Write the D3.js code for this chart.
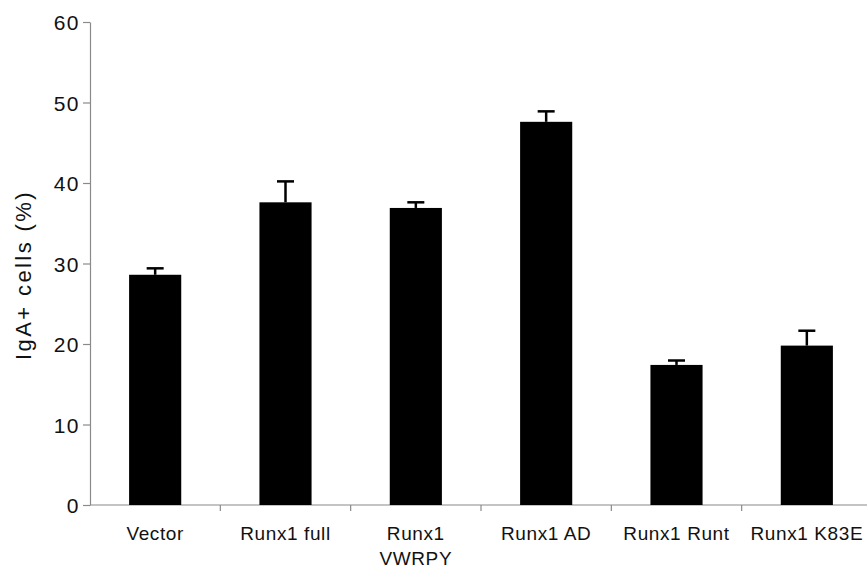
<!DOCTYPE html>
<html>
<head>
<meta charset="utf-8">
<script src="https://cdn.jsdelivr.net/npm/d3@7"></script>
<style>
  html, body { margin: 0; padding: 0; background: #fff; }
  svg { display: block; }
</style>
</head>
<body>
<svg id="chart" width="867" height="571"></svg>
<script>
const categories = ["Vector", "Runx1 full", "Runx1|VWRPY", "Runx1 AD", "Runx1 Runt", "Runx1 K83E"];
const values = [28.6, 37.6, 36.9, 47.6, 17.4, 19.8];
const errors = [0.8, 2.6, 0.7, 1.3, 0.55, 1.85];
const yTicks = [0, 10, 20, 30, 40, 50, 60];
const yTitle = "IgA+ cells (%)";

const data = categories.map((c, i) => ({ c, v: values[i], e: errors[i] }));

const svg = d3.select("#chart");
const mLeft = 90, mRight = 872, mTop = 22, mBottom = 505;
const axisColor = "#8a8a8a";
const font = "'Liberation Sans', Arial, Helvetica, sans-serif";

const x = d3.scaleBand().domain(categories).range([mLeft, mRight])
  .paddingInner(0.6).paddingOuter(0.3);
const y = d3.scaleLinear().domain([0, 60]).range([mBottom, mTop]);

// Y axis
const yAxis = svg.append("g").attr("transform", `translate(${mLeft},0)`)
  .call(d3.axisLeft(y).tickValues(yTicks).tickSize(7).tickSizeOuter(0).tickPadding(3));
yAxis.select(".domain").attr("stroke", axisColor).attr("stroke-width", 1.2);
yAxis.selectAll(".tick line").attr("stroke", axisColor).attr("stroke-width", 1.2);
yAxis.selectAll(".tick text")
  .attr("font-family", font).attr("font-size", 21).attr("fill", "#111")
  .attr("letter-spacing", 1.5).attr("dy", "0.36em");

// X axis line
svg.append("line")
  .attr("x1", mLeft).attr("x2", 867).attr("y1", y(0)).attr("y2", y(0))
  .attr("stroke", axisColor).attr("stroke-width", 1.2);

// X ticks at category boundaries
const step = x.step();
const boundaries = categories.map(c => x(c) + x.bandwidth() + (step - x.bandwidth()) / 2);
svg.append("g").selectAll("line").data(boundaries).join("line")
  .attr("x1", d => d).attr("x2", d => d)
  .attr("y1", y(0)).attr("y2", y(0) + 6)
  .attr("stroke", axisColor).attr("stroke-width", 1.2);

// Bars
svg.append("g").selectAll("rect").data(data).join("rect")
  .attr("x", d => x(d.c)).attr("width", x.bandwidth())
  .attr("y", d => y(d.v)).attr("height", d => y(0) - y(d.v))
  .attr("fill", "#000");

// Error bars
const eg = svg.append("g").attr("stroke", "#000").attr("stroke-width", 2.5);
data.forEach(d => {
  const cx = x(d.c) + x.bandwidth() / 2;
  eg.append("line").attr("x1", cx).attr("x2", cx).attr("y1", y(d.v)).attr("y2", y(d.v + d.e));
  eg.append("line").attr("x1", cx - 8.5).attr("x2", cx + 8.5).attr("y1", y(d.v + d.e)).attr("y2", y(d.v + d.e));
});

// X labels
const lbl = svg.append("g").attr("font-family", font).attr("font-size", 19)
  .attr("letter-spacing", 0.6).attr("fill", "#111").attr("text-anchor", "middle");
data.forEach(d => {
  const cx = x(d.c) + x.bandwidth() / 2;
  const t = lbl.append("text").attr("x", cx).attr("y", y(0) + 35);
  d.c.split("|").forEach((line, i) => {
    t.append("tspan").attr("x", cx).attr("dy", i === 0 ? 0 : 24.5).text(line);
  });
});

// Y title
svg.append("text")
  .attr("transform", `translate(31,${(190 + 360) / 2}) rotate(-90)`)
  .attr("text-anchor", "middle")
  .attr("font-family", font).attr("font-size", 22)
  .attr("letter-spacing", 2.4).attr("fill", "#111")
  .text(yTitle);
</script>
</body>
</html>
